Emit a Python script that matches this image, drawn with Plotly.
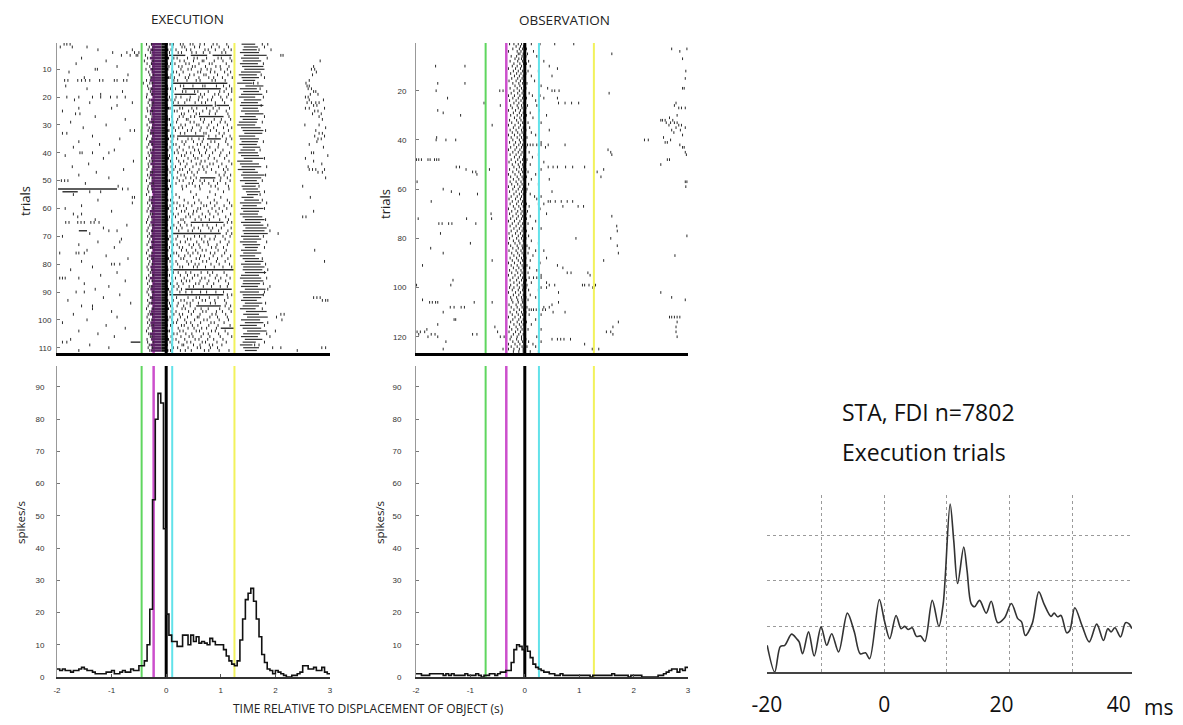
import plotly.graph_objects as go

W, H = 1183, 725

# ---------------- PSTH data (spikes/s, 50 ms bins from -2 s) ----------------
psth_t0 = -2.0
psth_bw = 0.05
exec_psth = [
    2.5, 2, 2.5, 2, 2, 1.5, 2, 2, 2.5, 3,
    2.5, 2, 2, 1.5, 1, 1, 1, 1, 1.5, 1.5,
    2, 1, 1, 1.5, 2, 1.5, 1.5, 2.5, 2, 2,
    3.5, 3.5, 5, 10, 21, 55, 80, 88, 85, 46,
    19.5, 13, 11, 11, 9.5, 9.5, 13, 13, 10, 13,
    11, 12.5, 10.5, 11, 10.5, 10, 12, 11, 10, 10,
    10, 8.5, 6.5, 5, 4, 3.5, 5, 11.5, 18, 24,
    26, 27.5, 23.5, 18, 12.5, 7, 4.5, 2.5, 2, 1,
    2, 1.5, 1, 0.5, 0, 0, 0.5, 0.5, 1, 1.5,
    3.5, 3.5, 2.5, 2.5, 3, 2, 2, 3, 1.5, 1,
]
obs_psth = [
    1, 1, 0.5, 0.5, 0.5, 1, 1, 1, 1, 1,
    0.5, 1, 0.5, 1, 0.5, 0.5, 0.5, 0.5, 1, 0.5,
    0.5, 0.5, 1, 0.5, 0, 0.5, 0.5, 1, 1, 0.5,
    1, 1.5, 1.5, 2, 2, 4.5, 8.5, 10, 9.5, 8.5,
    9.5, 8, 6, 4, 3, 2.5, 2, 1.5, 1.5, 1,
    1, 0.5, 0.5, 1, 0.5, 0.5, 0.5, 0.5, 0.5, 0.5,
    0.5, 0.5, 0.5, 0.5, 0, 0.5, 0.5, 0.5, 0.5, 0.5,
    0.5, 0.5, 1, 0.5, 0.5, 0.5, 0.5, 0.5, 0, 0.5,
    0.5, 0.5, 0.5, 0, 0, 0, 0, 0, 0, 0.5,
    0.5, 1, 1.5, 2, 2.5, 2.5, 1.5, 2.5, 2, 3,
]

# ---------------- behavioural events (s) ----------------
exec_events = [-0.45, -0.23, 0.0, 0.11, 1.25]
obs_events = [-0.72, -0.34, 0.0, 0.26, 1.27]
event_colors = ['#5fd65f', '#cc4fcc', '#000000', '#62e2ea', '#f2f25c']
event_widths = [2, 2.5, 3, 2, 2]

# ---------------- EXECUTION raster ----------------
# dense burst around the grasp: purple part (spikes mixed with per-trial magenta markers) then black
exec_core_start = [
    -0.28, -0.26, -0.29, -0.27, -0.25, -0.3, -0.27, -0.28, -0.26, -0.29,
    -0.27, -0.25, -0.28, -0.3, -0.27, -0.26, -0.29, -0.27, -0.28, -0.25,
    -0.29, -0.27, -0.26, -0.28, -0.3, -0.27, -0.25, -0.28, -0.29, -0.26,
    -0.27, -0.29, -0.28, -0.26, -0.27, -0.3, -0.28, -0.25, -0.27, -0.29,
    -0.26, -0.28, -0.27, -0.29, -0.25, -0.27, -0.28, -0.3, -0.26, -0.27,
    -0.29, -0.28, -0.27, -0.26, -0.24, -0.27, -0.29, -0.28, -0.26, -0.27,
    -0.3, -0.27, -0.28, -0.25, -0.29, -0.27, -0.26, -0.28, -0.27, -0.29,
    -0.26, -0.28, -0.27, -0.3, -0.25, -0.27, -0.29, -0.28, -0.26, -0.27,
    -0.29, -0.28, -0.27, -0.26, -0.3, -0.27, -0.25, -0.28, -0.29, -0.27,
    -0.26, -0.28, -0.27, -0.29, -0.25, -0.27, -0.28, -0.3, -0.26, -0.27,
    -0.29, -0.28, -0.27, -0.26, -0.3, -0.27, -0.28, -0.25, -0.29, -0.27, -0.28,
]
exec_core_mid = -0.09
exec_core_end = [
    0.03, 0.02, 0.04, 0.01, 0.03, 0.05, 0.02, 0.03, 0.01, 0.04,
    0.02, 0.03, 0.05, 0.02, 0.01, 0.03, 0.04, 0.02, 0.03, 0.01,
    0.04, 0.02, 0.03, 0.05, 0.02, 0.01, 0.03, 0.04, 0.02, 0.03,
    0.01, 0.04, 0.02, 0.03, 0.05, 0.02, 0.03, 0.01, 0.04, 0.02,
    0.03, 0.05, 0.02, 0.01, 0.03, 0.04, 0.02, 0.03, 0.01, 0.04,
    0.02, 0.03, 0.05, 0.02, 0.03, 0.01, 0.04, 0.02, 0.03, 0.05,
    0.02, 0.01, 0.03, 0.04, 0.02, 0.03, 0.01, 0.04, 0.02, 0.03,
    0.05, 0.02, 0.03, 0.01, 0.04, 0.02, 0.03, 0.05, 0.02, 0.01,
    0.03, 0.04, 0.02, 0.03, 0.01, 0.04, 0.02, 0.03, 0.05, 0.02,
    0.03, 0.01, 0.04, 0.02, 0.03, 0.05, 0.02, 0.01, 0.03, 0.04,
    0.02, 0.03, 0.01, 0.04, 0.02, 0.03, 0.05, 0.02, 0.03, 0.01, 0.04,
]
exec_late_start = [
    1.38, 1.42, 1.40, 1.35, 1.42, 1.37, 1.40, 1.35, 1.39, 1.43,
    1.37, 1.33, 1.38, 1.40, 1.30, 1.45, 1.35, 1.41, 1.37, 1.33,
    1.42, 1.37, 1.35, 1.40, 1.37, 1.44, 1.35, 1.40, 1.33, 1.30,
    1.37, 1.40, 1.43, 1.33, 1.35, 1.38, 1.34, 1.40, 1.36, 1.32,
    1.37, 1.42, 1.30, 1.35, 1.38, 1.31, 1.40, 1.37, 1.41, 1.35,
    1.44, 1.38, 1.40, 1.46, 1.48, 1.38, 1.43, 1.35, 1.40, 1.37,
    1.41, 1.35, 1.40, 1.44, 1.37, 1.41, 1.45, 1.40, 1.42, 1.37,
    1.41, 1.35, 1.40, 1.44, 1.37, 1.41, 1.35, 1.40, 1.44, 1.37,
    1.41, 1.40, 1.44, 1.37, 1.35, 1.41, 1.40, 1.37, 1.44, 1.35,
    1.40, 1.41, 1.37, 1.44, 1.40, 1.35, 1.46, 1.41, 1.48, 1.37,
    1.44, 1.35, 1.40, 1.48, 1.41, 1.37, 1.44, 1.40, 1.35, 1.41, 1.44,
]
exec_late_end = [
    1.63, 1.68, 1.66, 1.70, 1.84, 1.70, 1.74, 1.68, 1.78, 1.80,
    1.73, 1.66, 1.70, 1.63, 1.58, 1.78, 1.66, 1.70, 1.76, 1.63,
    1.74, 1.68, 1.78, 1.68, 1.70, 1.78, 1.64, 1.68, 1.66, 1.63,
    1.73, 1.78, 1.76, 1.63, 1.70, 1.68, 1.66, 1.72, 1.63, 1.68,
    1.70, 1.78, 1.58, 1.70, 1.74, 1.63, 1.68, 1.80, 1.74, 1.66,
    1.70, 1.64, 1.68, 1.72, 1.68, 1.60, 1.70, 1.74, 1.66, 1.78,
    1.70, 1.68, 1.76, 1.80, 1.73, 1.78, 1.84, 1.80, 1.86, 1.70,
    1.74, 1.66, 1.72, 1.68, 1.66, 1.74, 1.63, 1.70, 1.78, 1.73,
    1.80, 1.76, 1.83, 1.70, 1.74, 1.78, 1.72, 1.68, 1.82, 1.70,
    1.78, 1.74, 1.66, 1.76, 1.70, 1.64, 1.84, 1.70, 1.86, 1.72,
    1.78, 1.66, 1.74, 1.84, 1.72, 1.68, 1.76, 1.64, 1.58, 1.70, 1.66,
]
exec_streak_trial = [5, 5, 5, 15, 17, 19, 23, 23, 27, 34, 35, 49, 53, 54, 65, 68, 69, 82, 89, 91, 95, 103, 108]
exec_streak_start = [0.05, 0.45, 0.85, 0.1, 0.3, 0.15, 0.12, 0.92, 0.6, 0.2, 0.75, 0.62, -1.98, -1.9, 0.45, -1.6, 0.1, 0.08, 0.35, 0.06, 0.55, 1.0, -0.65]
exec_streak_end = [0.35, 0.75, 1.2, 1.12, 1.0, 0.55, 0.85, 1.15, 1.05, 0.7, 1.0, 0.9, -0.9, -1.62, 1.05, -1.45, 1.0, 1.25, 1.2, 1.05, 1.0, 1.25, -0.47]
exec_spikes = [
    [-1.87, -1.82, -1.76, -0.36, -0.27, 0.07, 0.13, 0.26, 0.31, 0.44, 0.49, 0.62, 0.7, 0.86, 0.93, 1.11, 1.76, 1.86],
    [-1.94, -1.72, -1.45, -0.31, 0.12, 0.29, 0.34, 0.52, 0.61, 0.83, 0.97, 1.14, 1.8],
    [-1.25, -0.62, -0.33, -0.25, 0.09, 0.18, 0.37, 0.45, 0.71, 0.77, 0.9, 1.06, 1.19, 1.7, 1.92],
    [-0.98, -0.72, -0.58, -0.5, -0.29, 0.06, 0.22, 0.28, 0.47, 0.55, 0.68, 0.8, 1.02, 1.09],
    [-0.82, -0.66, -0.55, -0.52, -0.38, -0.26, 2.1, 2.14],
    [-1.55, -0.34, 0.14, 0.2, 0.39, 0.51, 0.57, 0.74, 0.95, 1.01, 1.17, 1.85],
    [-1.1, -0.4, -0.24, 0.1, 0.25, 0.33, 0.5, 0.66, 0.69, 0.88, 1.04, 1.2, 2.82],
    [-1.65, -0.35, -0.27, 0.08, 0.16, 0.36, 0.42, 0.6, 0.79, 0.84, 1.1, 1.78],
    [-0.9, -0.3, 0.05, 0.23, 0.29, 0.48, 0.53, 0.72, 0.91, 0.99, 1.15, 2.7],
    [-1.3, -1.26, -0.37, -0.25, 0.11, 0.27, 0.4, 0.46, 0.64, 0.75, 0.82, 1.0, 1.12, 2.66, 2.72],
    [-1.78, -0.32, 0.13, 0.19, 0.31, 0.58, 0.63, 0.81, 0.89, 1.07, 1.18, 2.75],
    [-0.7, -0.3, -0.24, 0.09, 0.24, 0.43, 0.51, 0.69, 0.73, 0.94, 1.13, 1.74, 2.68],
    [-1.5, -0.28, 0.07, 0.15, 0.35, 0.41, 0.6, 0.78, 0.87, 1.03, 1.21, 1.8],
    [-1.86, -1.8, -1.62, -1.55, -1.48, -1.4, -1.22, -1.16, -0.95, -0.9, -0.78, -0.72, -0.36, 0.14, 0.21, 0.38, 0.55, 0.62, 0.84, 0.9, 1.08, 2.62],
    [-0.42, -0.3, -0.25, 1.6, 1.68, 2.56],
    [-1.84, -0.34, 0.1, 0.26, 0.32, 0.49, 0.67, 0.71, 0.92, 1.05, 1.16, 2.58, 2.62],
    [-1.45, -0.32, -0.26, 0.08, 0.17, 1.1, 1.2, 1.72, 2.6, 2.66],
    [-0.8, -0.29, 0.12, 0.3, 0.36, 0.52, 0.58, 0.77, 0.98, 1.06, 1.2, 1.84, 2.7, 2.74],
    [-1.2, -0.35, -0.25, 0.63, 0.7, 0.89, 0.96, 1.14, 2.64, 2.78],
    [-1.82, -1.6, -1.35, -1.2, -1.02, -0.9, -0.75, -0.36, 0.06, 0.18, 0.27, 0.44, 0.6, 0.66, 0.85, 1.0, 1.11, 1.78, 2.55, 2.6],
    [-1.68, -0.31, 0.09, 0.16, 0.38, 0.43, 0.59, 0.76, 0.83, 1.03, 1.19, 2.62, 2.88],
    [-1.4, -0.62, -0.33, -0.24, 0.13, 0.22, 0.34, 0.53, 0.65, 0.72, 0.9, 1.07, 2.58, 2.66, 2.74, 2.8],
    [-0.9, -0.3, -0.26, 0.9, 1.74, 2.7, 2.76],
    [-1.6, -1.0, -0.35, 0.07, 0.25, 0.3, 0.47, 0.56, 0.74, 0.86, 0.97, 1.16, 2.55, 2.62, 2.9],
    [-1.9, -0.34, -0.25, 0.15, 0.2, 0.41, 0.5, 0.67, 0.8, 0.93, 1.1, 2.72, 2.78],
    [-1.66, -1.58, -0.29, 0.11, 0.28, 0.33, 0.55, 0.61, 0.79, 0.9, 1.13, 2.68, 2.84],
    [-1.3, -0.37, -0.26, 0.1, 0.24, 0.31, 0.45, 0.52, 1.15, 1.8, 2.8],
    [-0.75, -0.32, 0.06, 0.21, 0.37, 0.4, 0.63, 0.7, 0.88, 1.01, 1.18, 2.86],
    [-1.75, -0.3, -0.24, 0.12, 0.19, 0.44, 0.51, 0.68, 0.83, 0.99, 1.08, 1.76],
    [-1.1, -0.35, 0.08, 0.27, 0.35, 0.56, 0.6, 0.78, 0.94, 1.12, 2.54, 2.8],
    [-1.52, -0.31, -0.25, 0.14, 0.23, 0.3, 0.48, 0.64, 0.75, 0.87, 1.05, 1.2, 2.92],
    [-0.66, -0.58, -0.33, 0.05, 0.17, 0.39, 0.46, 0.62, 0.81, 0.92, 1.14, 1.82, 2.74],
    [-1.9, -1.82, -0.29, -0.24, 0.11, 0.26, 0.34, 0.54, 0.69, 0.73, 0.97, 1.06, 2.8, 2.86],
    [-1.35, -0.34, 0.08, 0.14, 0.78, 0.91, 1.03, 1.17, 2.72, 2.9],
    [-0.85, -0.36, -0.26, 0.12, 0.21, 0.4, 0.47, 0.6, 0.68, 1.1, 1.2, 2.78, 2.84],
    [-1.6, -0.3, 0.09, 0.29, 0.36, 0.5, 0.66, 0.82, 0.89, 1.09, 1.78, 2.76],
    [-1.22, -0.32, -0.25, 0.13, 0.18, 0.33, 0.57, 0.63, 0.76, 0.96, 1.13, 2.62],
    [-1.7, -0.35, 0.07, 0.24, 0.42, 0.49, 0.7, 0.8, 0.95, 1.19, 2.88],
    [-0.95, -0.29, -0.24, 0.1, 0.2, 0.31, 0.52, 0.59, 0.74, 0.9, 1.04, 1.72],
    [-1.58, -1.54, -1.35, -1.05, -0.33, 0.15, 0.22, 0.37, 0.45, 0.61, 0.72, 0.85, 1.0, 1.16, 2.66, 2.7],
    [-1.85, -0.31, -0.26, 0.06, 0.28, 0.34, 0.5, 0.65, 0.79, 0.98, 1.11, 2.96],
    [-1.15, -0.36, 0.11, 0.19, 0.4, 0.53, 0.58, 0.77, 0.88, 1.07, 1.8, 2.55],
    [-0.6, -0.3, -0.25, 0.08, 0.23, 0.32, 0.46, 0.64, 0.71, 0.93, 1.15, 2.7],
    [-1.42, -0.33, 0.12, 0.26, 0.38, 0.55, 0.62, 0.8, 0.86, 1.02, 1.2, 2.85],
    [-1.72, -0.32, -0.24, 0.09, 0.17, 0.35, 0.49, 0.67, 0.75, 0.96, 1.1, 1.84, 2.6],
    [-0.78, -0.35, 0.14, 0.25, 0.3, 0.43, 0.6, 0.69, 0.83, 1.05, 1.13, 2.62, 2.68, 2.74, 2.9],
    [-1.28, -0.29, -0.25, 0.07, 0.21, 0.39, 0.47, 0.57, 0.73, 0.91, 1.08, 2.78, 2.86],
    [-1.6, -0.34, 0.1, 0.27, 0.33, 0.51, 0.97, 1.06, 1.18, 1.82],
    [-1.05, -0.31, -0.26, 0.13, 0.2, 0.36, 0.45, 0.55, 1.0, 1.12, 2.92],
    [-1.92, -1.86, -1.8, -0.36, 0.06, 0.24, 0.31, 0.5, 0.62, 0.7, 0.87, 0.99, 1.17, 1.76],
    [-1.48, -0.3, -0.24, 0.11, 0.18, 0.42, 0.48, 0.66, 0.78, 0.94, 1.09],
    [-0.88, -0.33, 0.08, 0.29, 0.37, 0.53, 0.61, 0.82, 0.9, 1.14, 1.7, 2.5],
    [-0.8, -0.7, -0.34, -0.26, 0.3, 0.62, 0.95, 1.15],
    [-1.4, -1.2, -0.32, 0.1, 0.45, 0.8, 1.05, 1.8],
    [-1.7, -0.36, 0.18, 0.55, 0.9, 1.72],
    [-0.62, -0.58, -0.3, -0.25, 0.12, 0.24, 0.5, 0.76, 1.0, 2.64],
    [-1.25, -0.31, 0.08, 0.33, 0.6, 0.88, 1.12, 1.76],
    [-0.62, -0.34, -0.26, 0.14, 0.2, 0.4, 0.52, 0.64, 0.81, 0.93, 1.16, 1.84],
    [-1.55, -0.3, 0.07, 0.25, 0.32, 0.47, 0.69, 0.74, 0.89, 1.06, 1.2],
    [-1.85, -0.33, -0.24, 0.12, 0.19, 0.37, 0.58, 0.63, 0.84, 0.97, 1.11, 1.8],
    [-1.0, -0.35, 0.09, 0.28, 0.34, 0.5, 0.56, 0.77, 0.91, 1.03, 2.7],
    [-1.7, -1.55, -0.29, -0.25, 0.13, 0.22, 0.41, 0.49, 0.66, 0.8, 0.95, 1.18],
    [-1.62, -0.32, 0.06, 0.17, 0.36, 0.44, 0.6, 0.72, 0.87, 1.09, 2.5, 2.56],
    [-1.3, -0.34, -0.26, 0.1, 0.27, 0.31, 0.53, 0.64, 0.79, 0.98, 1.14, 1.82],
    [-1.84, -1.78, -1.62, -1.56, -1.5, -1.38, -1.32, -1.23, -0.36, 0.1, 0.22, 0.34, 1.12, 1.2],
    [-0.72, -0.3, -0.24, 0.14, 0.26, 0.38, 0.46, 0.67, 0.75, 0.92, 1.06, 1.86],
    [-1.15, -0.33, 0.08, 0.19, 0.29, 0.51, 0.59, 0.78, 0.85, 1.01, 1.19],
    [-1.05, -0.9, -0.35, -0.25, 0.11, 0.23, 0.4, 0.48, 0.63, 0.82, 0.96, 1.13, 1.9],
    [-1.4, -0.31, 1.1, 1.2, 2.05],
    [-1.9, -0.34, -0.26, 0.07, 0.21, 0.33, 0.52, 0.61, 0.71, 0.9, 1.04, 1.17, 1.78],
    [-0.82, -0.3, 0.12, 0.18, 0.39, 0.45, 0.65, 0.8, 0.88, 1.08],
    [-1.25, -0.85, -0.32, -0.24, 0.09, 0.26, 0.35, 0.56, 0.69, 0.76, 0.99, 1.15, 1.84],
    [-1.6, -0.35, 0.13, 0.2, 0.42, 0.5, 0.6, 0.77, 0.93, 1.12],
    [-0.95, -0.29, -0.25, 0.06, 0.24, 0.3, 0.47, 0.62, 0.83, 0.91, 1.05, 1.8],
    [-1.45, -0.33, 0.1, 0.28, 0.37, 0.54, 0.66, 0.73, 0.95, 1.1, 2.72],
    [-1.95, -1.65, -1.6, -1.5, -0.36, -0.26, 0.14, 0.19, 0.4, 0.49, 0.58, 0.81, 0.89, 1.07],
    [-1.1, -0.31, 0.08, 0.23, 0.34, 0.44, 0.63, 0.7, 0.86, 1.02, 1.18],
    [-0.7, -0.34, -0.24, 0.11, 0.27, 0.32, 0.55, 0.61, 0.79, 0.94, 1.13, 1.76],
    [-1.55, -0.3, 0.07, 0.18, 0.38, 0.46, 0.67, 0.74, 0.92, 1.08, 2.9],
    [-1.0, -0.95, -0.85, -0.32, -0.25, 0.12, 0.21, 0.41, 0.53, 0.6, 0.82, 0.97, 1.16, 1.82],
    [-1.35, -0.35, 0.09, 0.25, 0.3, 0.5, 0.57, 0.72, 0.88, 1.04, 1.2],
    [-1.75, -0.33, -0.26, 1.86],
    [-0.9, -0.29, 0.13, 0.22, 0.36, 0.45, 0.64, 0.76, 0.85, 1.06, 1.8],
    [-1.2, -0.32, -0.24, 0.06, 0.26, 0.39, 0.52, 0.58, 0.8, 0.93, 1.11],
    [-1.95, -1.9, -1.85, -1.6, -0.36, 0.1, 0.17, 0.33, 0.48, 0.65, 0.71, 0.9, 1.0, 1.17, 1.84],
    [-0.75, -0.31, -0.25, 0.12, 0.28, 0.37, 0.43, 0.62, 0.78, 0.96, 1.09],
    [-1.5, -0.34, 0.08, 0.2, 0.31, 0.54, 0.6, 0.75, 0.87, 1.14, 1.78],
    [-1.05, -0.3, -0.26, 0.14, 0.23, 0.42, 0.5, 0.68, 0.83, 0.99, 1.12, 1.9],
    [-1.3, -0.33, 0.1, 0.2, 0.28, 1.86],
    [-1.65, -1.5, -0.35, -0.24, 0.07, 0.25, 0.36, 0.47, 0.63, 0.74, 0.91, 1.05, 1.8],
    [-0.85, -0.32, 1.12, 1.2, 1.78],
    [-1.15, -0.29, -0.25, 0.11, 0.19, 0.4, 0.55, 0.61, 0.79, 0.95, 1.13, 2.7, 2.76, 2.82],
    [-1.8, -0.34, 0.13, 0.27, 0.33, 0.49, 0.66, 0.72, 0.89, 1.07, 2.86, 2.92, 2.96],
    [-0.65, -0.31, -0.26, 0.06, 0.22, 0.38, 0.44, 0.59, 0.81, 0.9, 1.1, 1.82],
    [-1.55, -1.35, -0.33, 0.08, 0.2, 0.32, 0.44, 1.08, 1.18],
    [-1.35, -0.36, -0.24, 0.12, 0.29, 0.35, 0.53, 0.64, 0.77, 0.98, 1.15, 1.76],
    [-1.0, -0.3, 0.09, 0.18, 0.41, 0.5, 0.67, 0.73, 0.92, 1.03, 1.19],
    [-1.7, -0.33, -0.25, 0.14, 0.24, 0.3, 0.46, 0.62, 0.84, 0.91, 1.09, 2.1, 2.16],
    [-0.9, -0.35, 0.07, 0.26, 0.39, 0.57, 0.6, 0.8, 0.94, 1.12, 2.02],
    [-1.45, -0.31, -0.26, 0.1, 0.21, 0.34, 0.52, 0.69, 0.75, 0.97, 1.14, 2.12],
    [-1.9, -0.34, 0.13, 0.19, 0.37, 0.45, 0.63, 0.82, 0.88, 1.06, 1.86],
    [-1.1, -0.3, -0.24, 0.08, 0.28, 0.33, 0.48, 0.58, 0.78, 0.95, 1.17, 1.8],
    [-0.75, -0.33, 0.11, 0.22, 0.4, 0.51, 0.65, 0.74, 0.92],
    [-1.6, -0.36, -0.25, 0.06, 0.25, 0.31, 0.55, 0.61, 0.83, 0.9, 1.08, 2.0],
    [-1.25, -0.32, 0.14, 0.2, 0.36, 0.47, 0.68, 0.77, 0.96, 1.13, 1.84],
    [-0.95, -0.29, -0.26, 0.09, 0.27, 0.42, 0.49, 0.64, 0.8, 0.99, 1.2, 1.9],
    [-1.75, -0.35, 0.12, 0.18, 0.34, 0.53, 0.6, 0.76, 0.87, 1.04],
    [-1.9, -1.82, -0.34, -0.24, 0.07, 0.23, 0.38, 0.45, 0.66, 0.72, 0.93, 1.1, 1.8],
    [-1.4, -0.31, 0.1, 0.29, 0.32, 0.5, 0.62, 0.79, 0.85, 1.02, 1.62, 1.7],
    [-1.05, -0.33, -0.25, 0.13, 0.21, 0.4, 0.57, 0.63, 0.81, 0.94, 1.95, 2.1, 2.85, 2.92],
    [-1.6, -0.3, 0.08, 0.26, 0.35, 0.46, 0.7, 0.78, 0.97, 1.15, 2.4],
]

# ---------------- OBSERVATION raster ----------------
obs_spikes = [
    [-0.28, -0.2, -0.12, -0.06, 0.0, 0.12, 0.28, 0.55, 0.9],
    [-0.16, -0.08, -0.02],
    [-0.22, -0.1, -0.04, 0.03, 2.7, 2.98],
    [-0.3, -0.14, -0.07, 0.01, 0.16, 2.85],
    [-0.12, -0.09, -0.03, 0.05, 1.6],
    [-0.25, -0.15, -0.05, 0.02, 0.22],
    [-0.18, -0.11, -0.06, -0.01, 2.9],
    [-0.27, -0.13, -0.04, 0.07, 0.35],
    [-0.2, -0.09, -0.02, 0.03],
    [-1.64, -1.1, -0.23, -0.14, -0.06, 0.1, 0.45],
    [-0.3, -0.17, -0.08, 0.0, 0.6],
    [-0.21, -0.12, -0.04, 0.06, 0.25, 2.96],
    [-0.26, -0.15, -0.07, 0.02],
    [-0.19, -0.1, -0.03, 0.12, 0.5],
    [-0.24, -0.13, -0.05, 0.01, 2.95],
    [-0.29, -0.16, -0.08, -0.02, 0.18],
    [-1.6, -1.1, -0.22, -0.11, -0.04, 0.04],
    [-0.18, -0.09, -0.01, 0.3],
    [-0.27, -0.14, -0.06, 0.02, 0.42, 2.9, 2.93],
    [-1.63, -0.46, -0.4, -0.35, -0.2, -0.1, -0.03, 0.5, 0.55, 0.63],
    [-0.25, -0.13, -0.05, 0.08, 1.55],
    [-0.3, -0.19, -0.09, -0.02, 0.14, 0.28],
    [-1.42, -0.22, -0.12, -0.04, 0.03, 0.35, 0.6],
    [-0.28, -0.16, -0.07, 0.0, 0.2],
    [-0.75, -0.2, -0.11, -0.03, 0.62, 0.74, 0.86, 0.99, 2.78],
    [-0.45, -0.26, -0.14, -0.06, 0.05, 0.22, 2.75],
    [-0.23, -0.12, -0.05, 0.02, 2.83, 2.88, 2.95],
    [-1.6, -0.3, -0.17, -0.08, -0.01, 0.27],
    [-1.5, -0.21, -0.1, -0.03, 0.1],
    [-1.18, -0.26, -0.14, -0.06, 0.03, 0.4, 2.8],
    [-0.19, -0.09, -0.02, 0.15, 2.66],
    [-0.28, -0.15, -0.07, 0.01, 2.5, 2.53, 2.58, 2.72],
    [-0.24, -0.12, -0.04, 0.06, 0.3, 2.6, 2.68, 2.75, 2.8],
    [-0.6, -0.3, -0.18, -0.08, 0.0, 2.65, 2.83, 2.88],
    [-0.21, -0.11, -0.03, 0.09, 2.78, 2.95],
    [-0.27, -0.16, -0.06, 0.02, 0.45, 2.7, 2.86],
    [-0.23, -0.13, -0.05, 0.12, 2.74],
    [-0.3, -0.19, -0.09, -0.02, 0.2, 2.9],
    [-1.62, -0.25, -0.14, -0.06, 0.04, 2.55],
    [-1.63, -1.45, -1.27, -0.22, -0.1, -0.03, 2.2, 2.27, 2.68],
    [-0.28, -0.17, -0.08, 0.01, 0.3, 2.58, 2.62],
    [-0.2, -0.11, -0.04, 0.05, 0.1, 0.15, 0.22, 0.3, 0.43, 0.74, 2.85],
    [-0.26, -0.15, -0.06, 0.02, 0.38, 2.9, 2.93],
    [-0.3, -0.18, -0.09, -0.01, 1.53],
    [-0.22, -0.12, -0.05, 0.08, 1.58, 2.95],
    [-0.27, -0.16, -0.07, 0.0, 0.25, 1.6, 2.97],
    [-0.19, -0.1, -0.02, 0.14],
    [-1.99, -1.95, -1.9, -1.78, -1.74, -1.66, -1.62, -1.58, -0.25, -0.13, -0.04, 0.04, 2.62, 2.66],
    [-0.29, -0.17, -0.08, 0.02, 0.35],
    [-0.23, -0.12, -0.04, 0.1, 2.5],
    [-1.26, -1.2, -0.2, -0.1, -0.03, 0.43, 0.52, 0.6, 0.75, 0.88, 1.1],
    [-1.08, -0.65, -0.28, -0.15, -0.06, 0.02, 0.3, 1.45],
    [-0.96, -0.9, -0.22, -0.11, -0.04, 0.06, 1.33],
    [-0.88, -0.3, -0.18, -0.08, 0.0, 0.2],
    [-0.26, -0.14, -0.05, 0.03, 1.4],
    [-0.21, -0.11, -0.03, 0.12, 0.45],
    [-1.98, -0.27, -0.16, -0.07, 0.01, 2.95, 2.98],
    [-0.24, -0.13, -0.05, 0.07, 0.25],
    [-0.3, -0.19, -0.09, -0.02, 2.96],
    [-1.5, -0.22, -0.12, -0.04, 0.04],
    [-1.35, -0.28, -0.16, -0.06, 0.02, 0.5],
    [-1.2, -0.87, -0.2, -0.1, -0.03, 0.1],
    [-0.25, -0.14, -0.06, 0.01, 0.18, 0.3],
    [-0.29, -0.17, -0.08, -0.01, 0.22],
    [-1.72, -0.23, -0.12, -0.04, 0.43, 0.47, 0.56, 0.67, 0.78, 0.88],
    [-0.27, -0.15, -0.06, 0.03, 0.25, 0.35],
    [-0.21, -0.11, -0.03, 0.08, 0.7, 0.98, 1.08],
    [-0.3, -0.18, -0.08, 0.0, 0.28],
    [-0.24, -0.13, -0.05, 0.05],
    [-0.62, -0.28, -0.16, -0.07, 0.02, 0.4],
    [-0.22, -0.12, -0.04, 0.1, 1.6],
    [-1.96, -1.07, -0.61, -0.26, -0.15, -0.06, 0.03],
    [-0.3, -0.19, -0.09, -0.01, 0.2],
    [-1.58, -1.52, -1.4, -1.34, -0.9, -0.23, -0.12, -0.04, 0.06],
    [-0.27, -0.16, -0.07, 0.01, 1.69],
    [-0.2, -0.1, -0.03, 0.14, 0.3],
    [-0.25, -0.14, -0.05, 0.03, 1.7],
    [-1.55, -0.29, -0.17, -0.08, 0.0],
    [-0.23, -0.12, -0.04, 0.07, 2.98],
    [-0.28, -0.15, -0.06, 0.02, 0.94, 1.58],
    [-0.21, -0.11, -0.03, 0.12],
    [-1.0, -0.3, -0.18, -0.09, -0.01, 0.25],
    [-0.26, -0.14, -0.05, 0.04, 1.7],
    [-1.73, -0.22, -0.12, -0.04, 0.08],
    [-0.29, -0.16, -0.07, 0.01, 0.2, 0.35],
    [-1.5, -0.24, -0.13, -0.05, 0.06, 1.72],
    [-0.2, -0.1, -0.02, 0.15, 2.76],
    [-0.27, -0.15, -0.06, 0.02, 0.4],
    [-0.6, -0.23, -0.12, -0.04, 0.1, 1.45],
    [-0.3, -0.19, -0.08, 0.0, 0.28],
    [-1.88, -0.25, -0.14, -0.05, 0.04, 0.6],
    [-0.21, -0.11, -0.03, 0.09, 0.7],
    [-0.28, -0.16, -0.07, 0.01, 0.22],
    [-0.24, -0.13, -0.05, 0.06, 0.78, 0.85, 1.16],
    [-0.3, -0.18, -0.08, -0.01, 0.3, 1.2],
    [-0.22, -0.12, -0.04, 0.08, 0.16, 0.22, 0.3],
    [-1.32, -0.27, -0.15, -0.06, 0.03],
    [-0.2, -0.1, -0.02, 0.12, 0.4],
    [-1.99, -1.36, -0.26, -0.14, -0.05, 0.04, 0.45, 0.55, 1.06, 1.1, 1.18, 1.3],
    [-0.28, -0.2, -0.1, -0.03, 0.02, 0.3, 0.4, 1.25, 1.28],
    [-0.23, -0.12, -0.04, 0.07, 0.25],
    [-0.3, -0.17, -0.08, 0.0, 0.62, 2.5],
    [-0.21, -0.11, -0.03, 0.1],
    [-0.26, -0.15, -0.06, 0.02, 0.2, 2.7],
    [-1.88, -0.24, -0.13, -0.05, 0.06, 2.95],
    [-1.75, -1.7, -1.64, -1.6, -0.93, -0.6, -0.22, -0.12, -0.04, 0.62],
    [-0.29, -0.16, -0.07, 0.01, 0.5],
    [-1.37, -1.3, -1.17, -1.11, -0.25, -0.14, -0.05, 0.04, 0.35, 0.45],
    [-0.2, -0.1, -0.02, 0.08, 0.12, 0.16, 0.21, 0.27, 0.33, 0.38],
    [-1.5, -0.27, -0.15, -0.06, 0.02, 0.52, 0.74],
    [-0.23, -0.12, -0.04, 0.08, 0.3],
    [-0.3, -0.18, -0.08, 0.0, 2.66, 2.7, 2.75, 2.8, 2.85],
    [-1.3, -1.27, -0.22, -0.11, -0.03, 0.2],
    [-0.26, -0.14, -0.06, 0.03, 1.72, 2.8],
    [-1.6, -0.2, -0.1, -0.03, 0.12],
    [-0.55, -0.28, -0.16, -0.07, 0.01, 1.62, 2.78],
    [-1.8, -0.24, -0.13, -0.05, 0.06, 0.3],
    [-1.98, -1.92, -1.84, -0.5, -0.29, -0.17, -0.08, 0.0, 1.5, 1.58, 2.78],
    [-1.95, -1.72, -1.65, -0.96, -0.88, -0.21, -0.11, -0.03, 1.62],
    [-1.78, -1.6, -0.45, -0.38, -0.25, -0.14, -0.06, 0.22, 2.8],
    [-0.27, -0.15, -0.06, 0.02, 0.5, 0.6, 0.66, 0.72, 0.84],
    [-1.45, -0.22, -0.12, -0.04, 0.07, 0.3],
    [-0.3, -0.18, -0.09, -0.01, 0.15, 1.1],
    [-0.25, -0.14, -0.05, 0.04, 0.2],
    [-1.5, -0.4, -0.3, -0.2, -0.1, -0.03, 1.24, 1.36],
    [-0.21, -0.11, -0.03, 0.1, 0.25],
]

# ---------------- STA (spike-triggered average, FDI) ----------------
sta_ms = [-18.7, -17.5, -16.6, -15.9, -14.8, -14.0, -13.6, -13.05, -12.1, -11.2,
          -10.1, -9.2, -8.4, -7.3, -5.9, -4.8, -3.85, -3.0, -2.35, -0.8,
          0.0, 0.86, 1.87, 2.67, 3.26, 3.8, 4.44, 5.13, 5.8, 6.47,
          7.65, 8.7, 9.4, 10.5, 11.07, 11.7, 12.67, 13.2, 13.85, 14.4,
          15.2, 16.26, 17.06, 18.1, 19.2, 20.27, 21.3, 21.9, 22.5, 23.6,
          24.65, 25.5, 26.6, 27.1, 27.65, 28.2, 29.1, 29.6, 30.4, 31.6,
          32.7, 33.9, 34.97, 35.67, 36.2, 36.8, 37.7, 38.5, 39.1, 39.5]
sta_val = [0.585, 0.0, 0.56, 0.585, 0.83, 0.73, 0.66, 0.40, 0.88, 0.35,
           0.99, 0.585, 0.84, 0.44, 1.29, 0.88, 0.40, 0.42, 0.29, 1.59,
           1.13, 0.73, 1.24, 0.95, 1.0, 0.93, 0.97, 0.78, 0.79, 0.67,
           1.57, 1.0, 1.5, 3.68, 2.89, 1.94, 2.74, 2.23, 1.50, 1.43,
           1.57, 1.29, 1.55, 1.08, 1.19, 1.50, 1.17, 1.10, 0.80, 1.06,
           1.76, 1.49, 1.22, 1.29, 1.21, 1.24, 0.86, 0.91, 1.41, 1.0,
           0.66, 1.05, 0.69, 0.95, 0.88, 0.97, 0.77, 1.08, 1.05, 0.95]
sta_grid_ms = [-10, 0, 10, 20, 30]
sta_grid_val = [1, 2, 3]
sta_label_vals = [-20, 0, 20, 40]
sta_label_text = ['-20', '0', '20', '40']

psth_tick_vals = [-2, -1, 0, 1, 2, 3]
psth_tick_text = ['-2', '-1', '0', '1', '2', '3']

# ---------------- helpers ----------------
def px(x):
    return x / W


def py(y):
    return 1 - y / H


def raster_xy(spike_lists):
    xs, ys = [], []
    for i, lst in enumerate(spike_lists, start=1):
        xs.extend(lst)
        ys.extend([i] * len(lst))
    return xs, ys


def seg_xy(trials, starts, ends):
    xs, ys = [], []
    for tr, s, e in zip(trials, starts, ends):
        xs += [s, e, None]
        ys += [tr, tr, None]
    return xs, ys


def hist_xy(vals):
    edges = [psth_t0 + i * psth_bw for i in range(len(vals) + 1)]
    return edges, list(vals) + [vals[-1]]


fig = go.Figure()
TICKFONT = dict(family='Liberation Sans, Arial', size=8, color='#333')
SPIKE = '#2a2a2a'

# Execution raster
n_exec = len(exec_spikes)
trials_exec = list(range(1, n_exec + 1))
px_, py_ = seg_xy(trials_exec, exec_core_start, [exec_core_mid] * n_exec)
fig.add_trace(go.Scatter(x=px_, y=py_, mode='lines', line=dict(color='#5a2364', width=2.6),
                         xaxis='x', yaxis='y', hoverinfo='skip'))
cx, cy = seg_xy(trials_exec, [exec_core_mid] * n_exec, exec_core_end)
fig.add_trace(go.Scatter(x=cx, y=cy, mode='lines', line=dict(color='#111', width=2.6),
                         xaxis='x', yaxis='y', hoverinfo='skip'))
lx, ly = seg_xy(trials_exec, exec_late_start, exec_late_end)
fig.add_trace(go.Scatter(x=lx, y=ly, mode='lines', line=dict(color='#333', width=1.2),
                         xaxis='x', yaxis='y', hoverinfo='skip'))
sx, sy = seg_xy(exec_streak_trial, exec_streak_start, exec_streak_end)
fig.add_trace(go.Scatter(x=sx, y=sy, mode='lines', line=dict(color=SPIKE, width=1.4),
                         xaxis='x', yaxis='y', hoverinfo='skip'))
rx, ry = raster_xy(exec_spikes)
fig.add_trace(go.Scatter(x=rx, y=ry, mode='markers',
                         marker=dict(symbol='line-ns', size=2.0, line=dict(color=SPIKE, width=1)),
                         xaxis='x', yaxis='y', hoverinfo='skip'))

# Observation raster
ox, oy = raster_xy(obs_spikes)
fig.add_trace(go.Scatter(x=ox, y=oy, mode='markers',
                         marker=dict(symbol='line-ns', size=1.9, line=dict(color=SPIKE, width=1)),
                         xaxis='x3', yaxis='y3', hoverinfo='skip'))

# PSTHs
hx, hy = hist_xy(exec_psth)
fig.add_trace(go.Scatter(x=hx, y=hy, mode='lines', line=dict(color='#111', width=1.6, shape='hv'),
                         xaxis='x2', yaxis='y2', hoverinfo='skip'))
hx, hy = hist_xy(obs_psth)
fig.add_trace(go.Scatter(x=hx, y=hy, mode='lines', line=dict(color='#111', width=1.6, shape='hv'),
                         xaxis='x4', yaxis='y4', hoverinfo='skip'))

# STA
fig.add_trace(go.Scatter(x=sta_ms, y=sta_val, mode='lines',
                         line=dict(color='#333', width=1.6, shape='spline', smoothing=0.9),
                         xaxis='x5', yaxis='y5', hoverinfo='skip'))
fig.add_trace(go.Scatter(x=sta_label_vals, y=[0] * len(sta_label_vals), mode='markers',
                         marker=dict(opacity=0, size=1), xaxis='x6', yaxis='y5', hoverinfo='skip'))

# event lines
shapes = []
for xr, yr, evs, raster in (('x', 'y', exec_events, True), ('x2', 'y2', exec_events, False),
                            ('x3', 'y3', obs_events, True), ('x4', 'y4', obs_events, False)):
    for k, (t, c, w) in enumerate(zip(evs, event_colors, event_widths)):
        layer = 'above' if raster else 'below'
        if k == 1 and xr == 'x':
            layer = 'below'
        shapes.append(dict(type='line', xref=xr, yref=yr + ' domain', x0=t, x1=t, y0=0, y1=1,
                           line=dict(color=c, width=w), layer=layer))

raster_x = dict(range=[-2, 3], showticklabels=False, ticks='', showline=True, linecolor='#000',
                linewidth=2.5, showgrid=False, zeroline=False, automargin=False)
psth_x = dict(range=[-2, 3], tickvals=psth_tick_vals, ticktext=psth_tick_text, ticks='inside',
              ticklen=3, tickcolor='#555', showline=True, linecolor='#333', linewidth=1.5,
              showgrid=False, zeroline=False, tickfont=TICKFONT, ticklabelstandoff=5,
              automargin=False)
left_y = dict(ticks='inside', ticklen=3, tickcolor='#777', showline=True, linecolor='#999',
              linewidth=1, showgrid=False, zeroline=False, tickfont=TICKFONT, automargin=False)

fig.update_layout(
    width=W, height=H, autosize=False, margin=dict(l=0, r=0, t=0, b=0, pad=0),
    paper_bgcolor='white', plot_bgcolor='white', showlegend=False,
    xaxis=dict(domain=[px(57), px(330)], anchor='y', **raster_x),
    yaxis=dict(domain=[py(353), py(43)], anchor='x', range=[111.9, 0.57],
               tickvals=list(range(10, 111, 10)), ticklabelstandoff=3, **left_y),
    xaxis2=dict(domain=[px(57), px(330)], anchor='y2', **psth_x),
    yaxis2=dict(domain=[py(677), py(366)], anchor='x2', range=[0, 96.5],
                tickvals=list(range(0, 91, 10)), ticklabelstandoff=10, **left_y),
    xaxis3=dict(domain=[px(416), px(688)], anchor='y3', **raster_x),
    yaxis3=dict(domain=[py(353), py(43)], anchor='x3', range=[126.6, 0.6],
                tickvals=list(range(20, 121, 20)), ticklabelstandoff=7, **left_y),
    xaxis4=dict(domain=[px(416), px(688)], anchor='y4', **psth_x),
    yaxis4=dict(domain=[py(677), py(366)], anchor='x4', range=[0, 96.5],
                tickvals=list(range(0, 91, 10)), ticklabelstandoff=12, **left_y),
    xaxis5=dict(domain=[px(767), px(1132)], anchor='y5', range=[-18.73, 39.53],
                tickvals=sta_grid_ms, showticklabels=False, ticks='', showgrid=True,
                gridcolor='#9a9a9a', griddash='dot', gridwidth=1, showline=True,
                linecolor='#444', linewidth=2, zeroline=False, automargin=False),
    yaxis5=dict(domain=[py(672), py(495)], anchor='x5', range=[0, 3.88],
                tickvals=sta_grid_val, showticklabels=False, ticks='', showgrid=True,
                gridcolor='#9a9a9a', griddash='dot', gridwidth=1, showline=False, zeroline=False,
                automargin=False),
    xaxis6=dict(overlaying='x5', anchor='y5', side='bottom', range=[-20.0, 42.27],
                tickvals=sta_label_vals, ticktext=sta_label_text, ticks='', showgrid=False,
                showline=False, zeroline=False, ticklabelstandoff=18, automargin=False,
                tickfont=dict(family='Open Sans', size=21, color='#111')),
    shapes=shapes,
)

ann_font = dict(family='Open Sans', color='#222')
annotations = [
    dict(text='EXECUTION', x=px(187), y=py(19), font=dict(size=13.5, **ann_font)),
    dict(text='OBSERVATION', x=px(564), y=py(20), font=dict(size=13.5, **ann_font)),
    dict(text='trials', x=px(25), y=py(201), textangle=-90, font=dict(size=13, **ann_font)),
    dict(text='trials', x=px(385), y=py(204), textangle=-90, font=dict(size=13, **ann_font)),
    dict(text='spikes/s', x=px(20), y=py(523), textangle=-90, font=dict(size=11.5, **ann_font)),
    dict(text='spikes/s', x=px(379), y=py(523), textangle=-90, font=dict(size=11.5, **ann_font)),
    dict(text='TIME RELATIVE TO DISPLACEMENT OF OBJECT (s)', x=px(368), y=py(708),
         font=dict(size=12, **ann_font)),
    dict(text='STA, FDI n=7802', x=px(840), y=py(412), xanchor='left',
         font=dict(family='Open Sans', size=23, color='#111')),
    dict(text='Execution trials', x=px(840), y=py(452), xanchor='left',
         font=dict(family='Open Sans', size=23, color='#111')),
    dict(text='ms', x=px(1158), y=py(707), font=dict(family='Open Sans', size=21, color='#111')),
]
for a in annotations:
    a.setdefault('xanchor', 'center')
    a.update(xref='paper', yref='paper', yanchor='middle', showarrow=False)
fig.update_layout(annotations=annotations)

fig.write_html(
    'out.html',
    config={'displayModeBar': False, 'staticPlot': True},
    post_script="document.body.style.margin='0px';document.body.style.overflow='hidden';",
)
